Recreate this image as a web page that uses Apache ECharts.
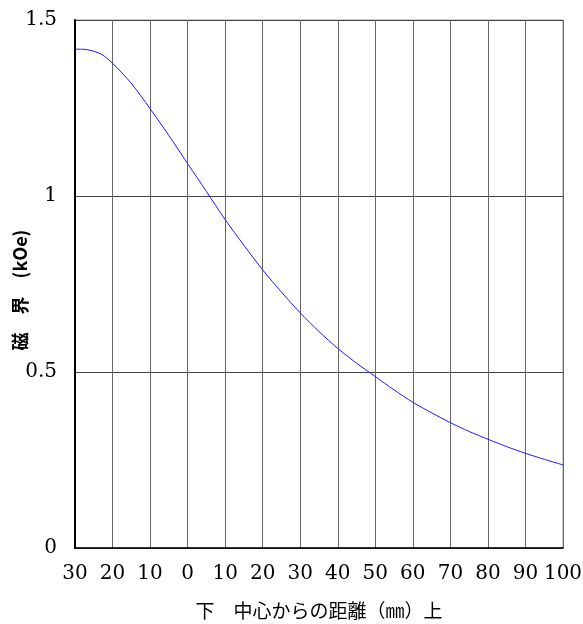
<!DOCTYPE html>
<html>
<head>
<meta charset="utf-8">
<script src="https://cdn.jsdelivr.net/npm/echarts@6/dist/echarts.min.js"></script>
<style>html,body{margin:0;padding:0;background:#fff;}#c{width:583px;height:624px;}</style>
</head>
<body>
<div id="c"></div>
<script>
const distances = [-30, -28, -26, -23, -20, -15, -10, -5, 0, 5, 10, 15, 20, 25, 30, 35, 40, 45, 50, 55, 60, 65, 70, 75, 80, 85, 90, 95, 100];
const fieldKOe = [1.417, 1.417, 1.414, 1.403, 1.377, 1.320, 1.248, 1.172, 1.092, 1.013, 0.933, 0.860, 0.790, 0.727, 0.668, 0.615, 0.567, 0.525, 0.487, 0.449, 0.414, 0.384, 0.356, 0.331, 0.309, 0.288, 0.269, 0.252, 0.236];
const xTickMin = -30, xTickMax = 100, xTickStep = 10;
const yTicks = [0, 0.5, 1, 1.5];
const xName = '下　中心からの距離（㎜）上';
const yName = '磁　界　(kOe)';

const chart = echarts.init(document.getElementById('c'), null, {renderer: 'canvas'});
chart.setOption({
  animation: false,
  backgroundColor: '#fff',
  grid: {left: 75, right: 20, top: 20, bottom: 76, containLabel: false, outerBoundsMode: 'none',
         show: true, borderColor: '#999', borderWidth: 1},
  xAxis: {
    type: 'value', min: xTickMin, max: xTickMax, interval: xTickStep,
    name: xName, nameLocation: 'middle', nameGap: 53, nameMoveOverlap: false,
    nameTextStyle: {fontFamily: 'Noto Sans CJK JP', fontSize: 19, color: '#000'},
    axisLine: {show: true, onZero: false, lineStyle: {color: '#000', width: 1.5}},
    axisTick: {show: false},
    axisLabel: {margin: 16, fontFamily: 'DejaVu Serif', fontSize: 20, color: '#000', formatter: v => String(Math.abs(v))},
    splitLine: {show: true, lineStyle: {color: '#666', width: 1}}
  },
  yAxis: {
    type: 'value', min: yTicks[0], max: yTicks[yTicks.length - 1], interval: 0.5,
    name: yName, nameLocation: 'middle', nameGap: 46, nameRotate: 90, nameMoveOverlap: false,
    nameTextStyle: {fontFamily: 'Noto Sans CJK JP', fontSize: 18, fontWeight: 'bold', color: '#000', padding: [0, 12, 0, 0]},
    axisLine: {show: true, onZero: false, lineStyle: {color: '#000', width: 2}},
    axisTick: {show: false},
    axisLabel: {margin: 18, fontFamily: 'DejaVu Serif', fontSize: 20, color: '#000'},
    splitLine: {show: true, lineStyle: {color: '#444', width: 1}}
  },
  series: [{
    type: 'line',
    data: distances.map((d, i) => [d, fieldKOe[i]]),
    smooth: 0.3,
    showSymbol: false,
    lineStyle: {color: '#1a1aff', width: 1}
  }]
});
</script>
</body>
</html>
